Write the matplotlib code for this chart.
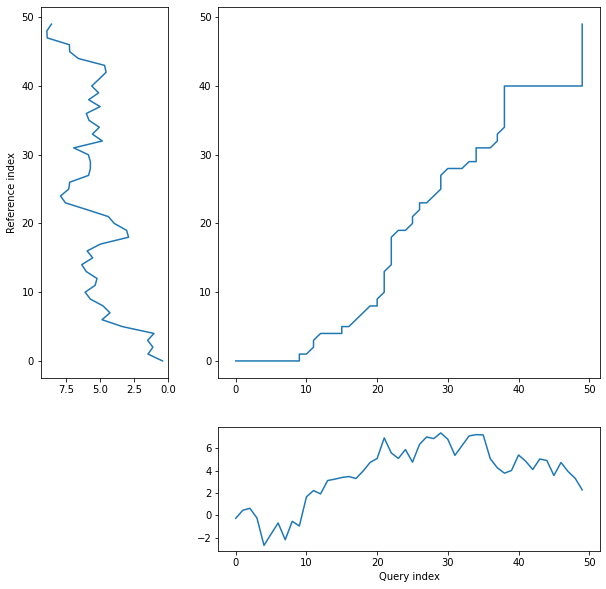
import matplotlib
matplotlib.use("Agg")
import matplotlib.pyplot as plt

# query series (bottom), indexed 0..49
query = [-0.27, 0.45, 0.63, -0.24, -2.70, -1.68, -0.69, -2.19, -0.54, -0.96,
         1.65, 2.22, 1.92, 3.12, 3.24, 3.39, 3.48, 3.30, 3.96, 4.74,
         5.10, 6.94, 5.60, 5.10, 5.90, 4.77, 6.37, 7.03, 6.88, 7.39,
         6.82, 5.38, 6.25, 7.12, 7.24, 7.21, 5.08, 4.26, 3.78, 4.02,
         5.41, 4.86, 4.11, 5.05, 4.92, 3.57, 4.74, 3.93, 3.33, 2.28]

# reference series (left), indexed 0..49
reference = [0.40, 1.47, 1.11, 1.50, 1.03, 3.37, 4.87, 4.28, 4.79, 5.73,
             6.12, 5.38, 5.24, 6.03, 6.37, 5.56, 5.97, 4.99, 2.91, 3.05,
             3.96, 4.40, 5.97, 7.57, 7.94, 7.33, 7.26, 5.86, 5.73, 5.73,
             5.88, 6.96, 4.85, 5.58, 5.07, 5.83, 6.03, 5.01, 5.86, 5.12,
             5.63, 5.09, 4.57, 4.68, 6.62, 7.26, 7.28, 8.92, 8.95, 8.61]

# warping path (query index, reference index)
path_q = [0, 1, 2, 3, 4, 5, 6, 7, 8, 9, 9, 10, 11, 11, 12, 13, 14, 15, 15, 16,
          17, 18, 19, 20, 20, 21, 21, 21, 21, 22, 22, 22, 22, 22, 23, 24, 25, 25,
          26, 26, 27, 28, 29, 29, 29, 30, 31, 32, 33, 34, 34, 34, 35, 36, 37, 37,
          38, 38, 38, 38, 38, 38, 38,
          39, 40, 41, 42, 43, 44, 45, 46, 47, 48, 49,
          49, 49, 49, 49, 49, 49, 49, 49, 49]
path_r = [0, 0, 0, 0, 0, 0, 0, 0, 0, 0, 1, 1, 2, 3, 4, 4, 4, 4, 5, 5,
          6, 7, 8, 8, 9, 10, 11, 12, 13, 14, 15, 16, 17, 18, 19, 19, 20, 21,
          22, 23, 23, 24, 25, 26, 27, 28, 28, 28, 29, 29, 30, 31, 31, 31, 32, 33,
          34, 35, 36, 37, 38, 39, 40,
          40, 40, 40, 40, 40, 40, 40, 40, 40, 40, 40,
          41, 42, 43, 44, 45, 46, 47, 48, 49]

idx = list(range(len(query)))

fig = plt.figure(figsize=(606 / 72, 589 / 72), dpi=72)
ax_ref = fig.add_axes([0.0677, 0.3586, 0.210, 0.629])
ax_path = fig.add_axes([0.3604, 0.3586, 0.6289, 0.629])
ax_query = fig.add_axes([0.3604, 0.0645, 0.6289, 0.210])

ax_ref.plot(reference, idx)
ax_ref.invert_xaxis()
ax_ref.set_ylabel("Reference index")

ax_path.plot(path_q, path_r)

ax_query.plot(idx, query)
ax_query.set_xlabel("Query index")

fig.savefig("out.png", dpi=72)
